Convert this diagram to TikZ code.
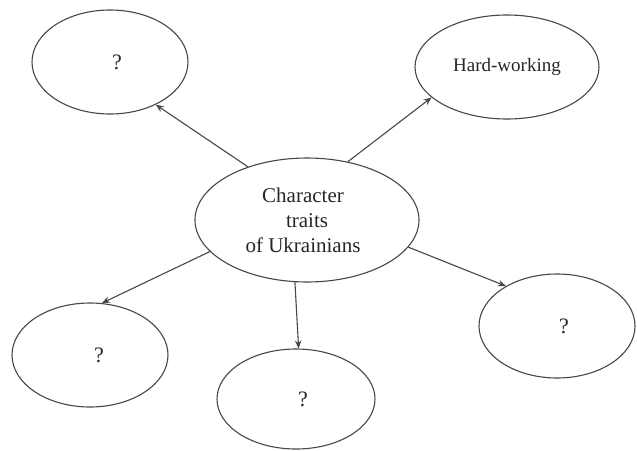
\documentclass[tikz,border=0pt]{standalone}
\usepackage{fontspec}
\setmainfont{Liberation Serif}
\usetikzlibrary{shapes.geometric,arrows.meta}
\tikzset{
  bubble/.style={draw=black!72, line width=1.1pt, ellipse, inner sep=0pt, font=\fontsize{19}{24}\selectfont, text=black!85},
  qmark/.style={bubble, font=\fontsize{22}{26}\selectfont},
  link/.style={draw=black!72, line width=1.1pt, -{Stealth[length=8pt,width=6.5pt]}}
}
\begin{document}
\begin{tikzpicture}[x=1pt,y=-1pt]
\useasboundingbox[fill=white] (0,0) rectangle (637,450);
\node[bubble, minimum width=224pt, minimum height=124pt, align=center, font=\fontsize{21}{25}\selectfont] (c) at (307,220) {Character\hspace*{8pt}\\traits\hspace*{8pt}\\of Ukrainians\hspace*{8pt}};
\node[qmark, minimum width=156pt, minimum height=104pt] (tl) at (110,62) {\hspace*{14pt}?};
\node[bubble, minimum width=184pt, minimum height=104pt] (tr) at (507,67) {Hard-working};
\node[qmark, minimum width=156pt, minimum height=104pt] (bl) at (90,355) {\hspace*{18pt}?};
\node[qmark, minimum width=158pt, minimum height=100pt] (bc) at (296,399) {\hspace*{14pt}?};
\node[qmark, minimum width=156pt, minimum height=104pt] (br) at (557,326) {\hspace*{14pt}?};
\draw[link] (c.138) -- (tl.317);
\draw[link] (c.55) -- (tr.202);
\draw[link] (c.198) -- (bl.77);
\draw[link] (c.259) -- (bc.87);
\draw[link] (c.345) -- (br.142);
\end{tikzpicture}
\end{document}
